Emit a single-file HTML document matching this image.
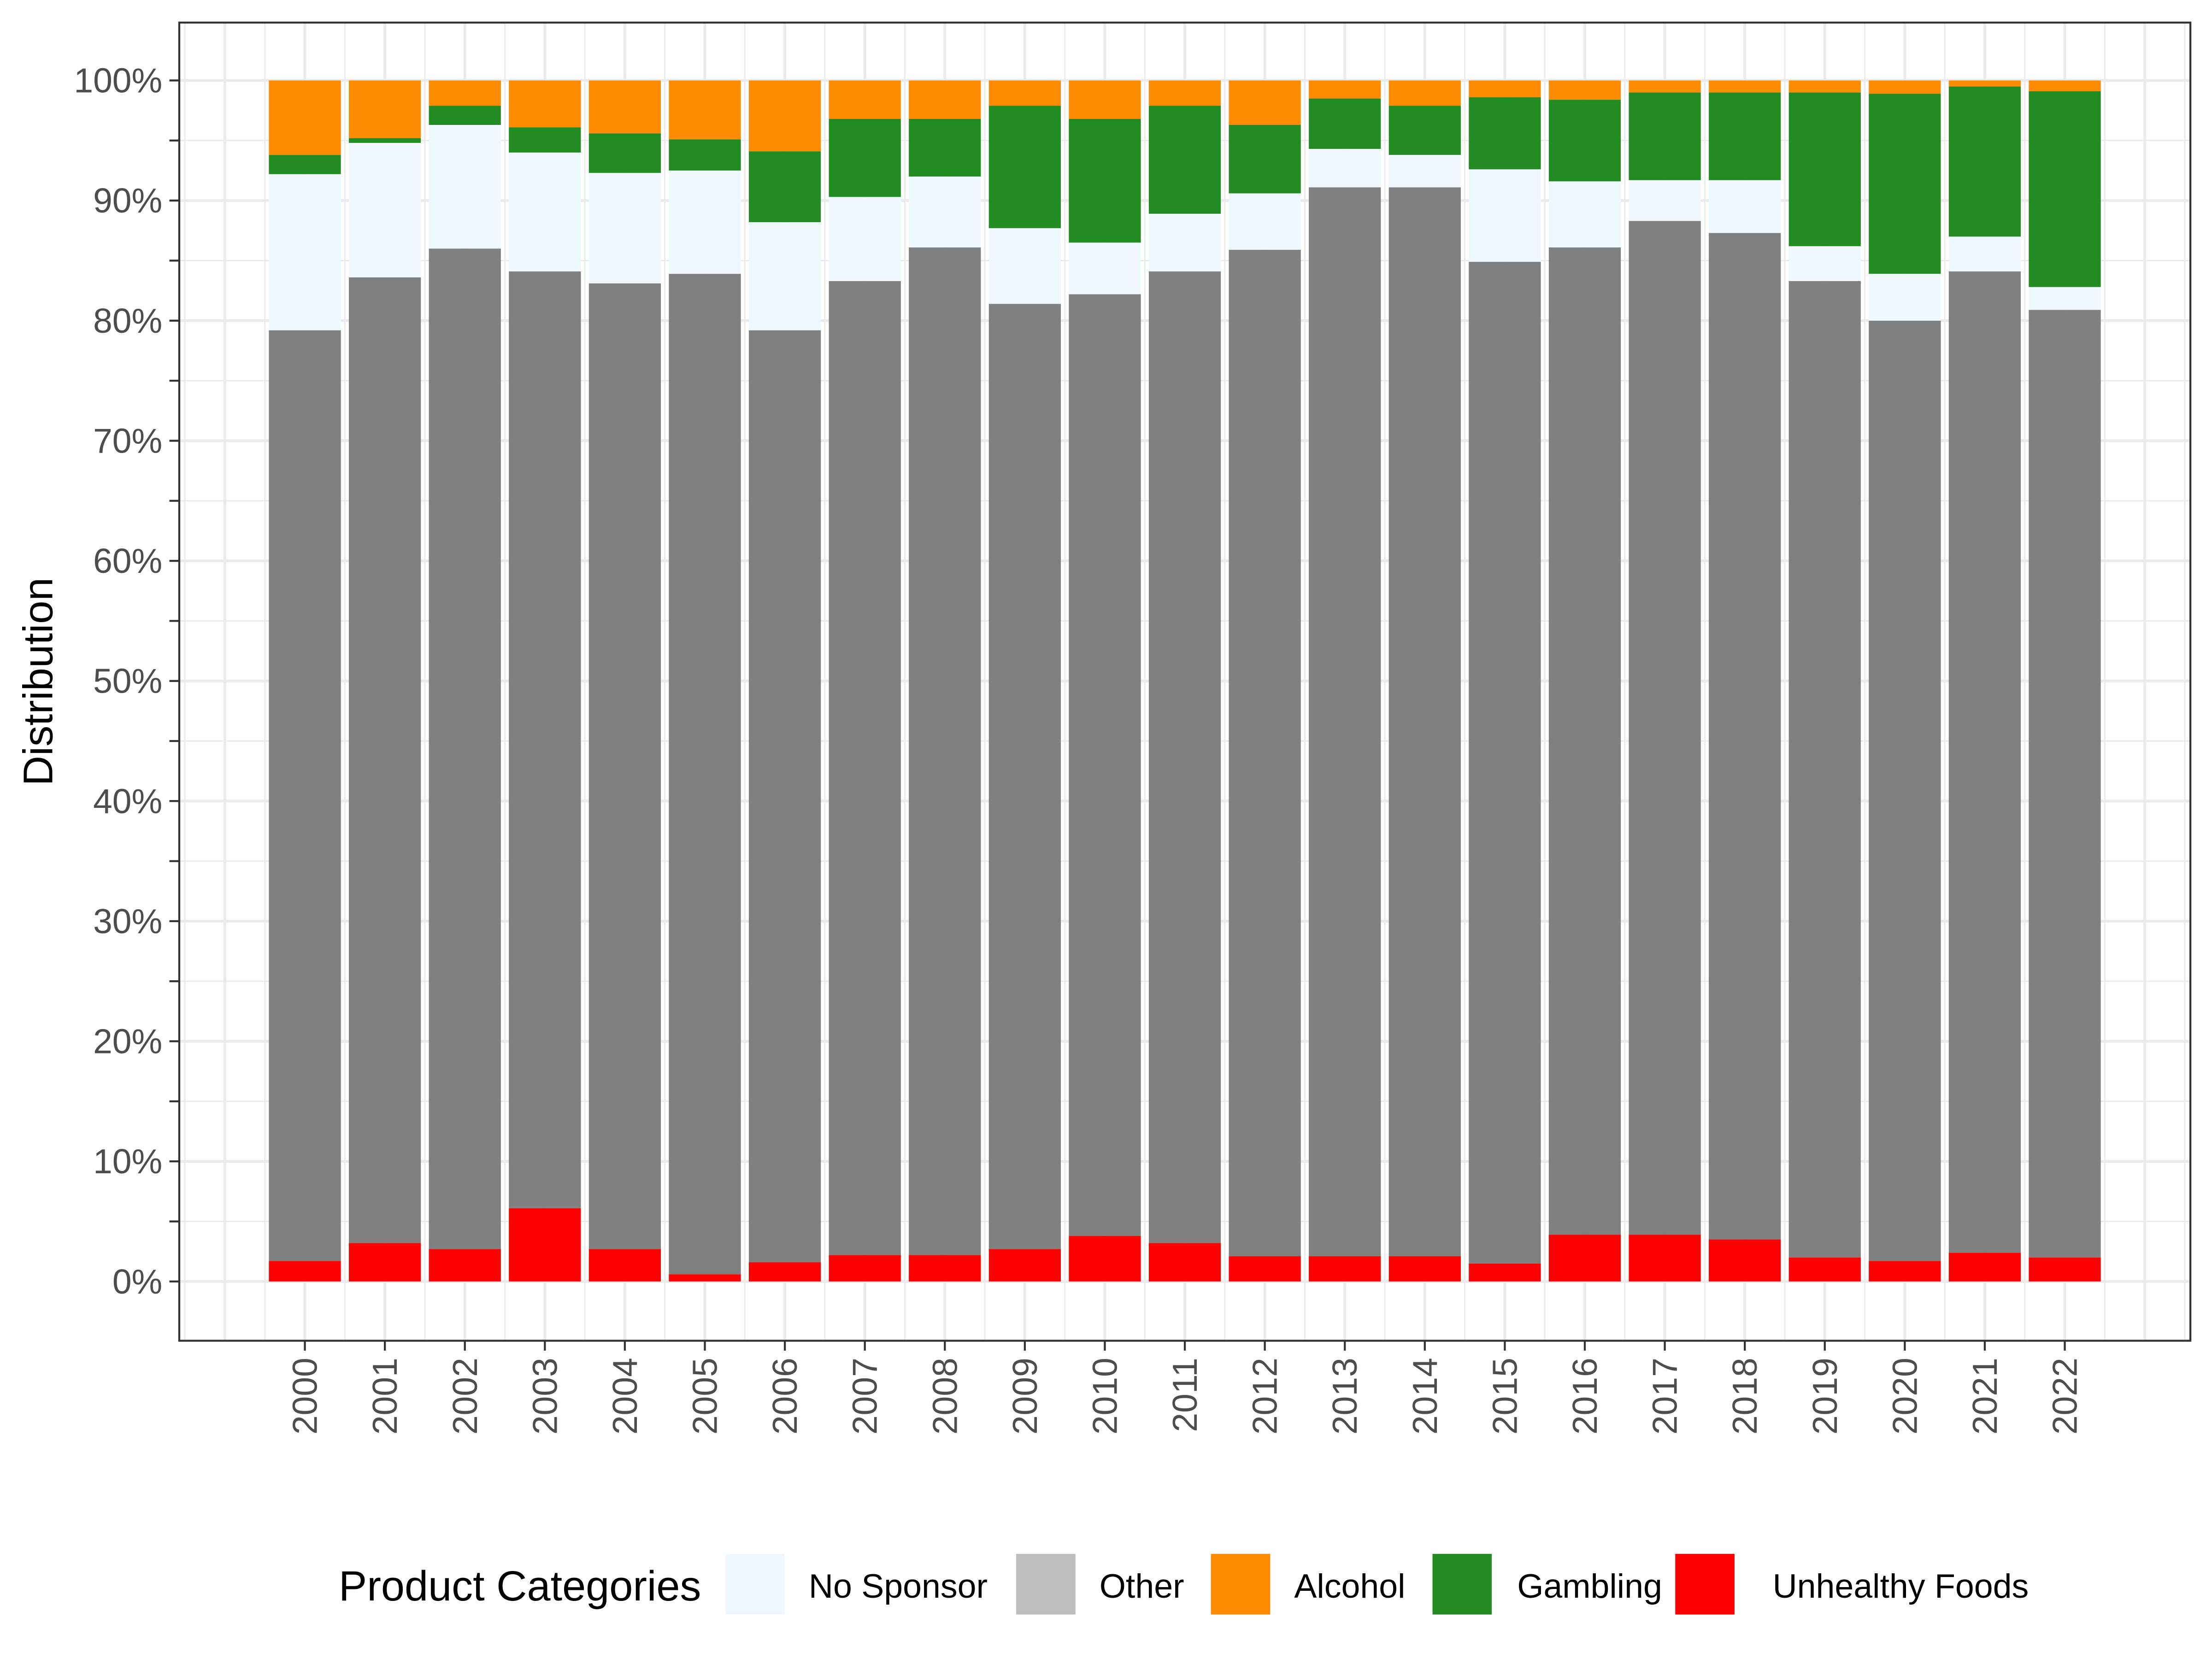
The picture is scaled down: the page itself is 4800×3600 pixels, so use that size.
<!DOCTYPE html>
<html><head><meta charset="utf-8"><style>
html,body{margin:0;padding:0;background:#fff}
svg{display:block}
text{font-family:"Liberation Sans",Arial,sans-serif}
</style></head><body>
<svg id="chart" width="4800" height="3600" viewBox="0 0 1567.3 1175.5" xmlns="http://www.w3.org/2000/svg">
<rect width="1567.3" height="1175.5" fill="#fff"/>
<g id="grid"></g>
<g id="bars"></g>
<rect x="127" y="16" width="1425" height="934" fill="none" stroke="#333" stroke-width="1.4"/>
<g id="axes"></g>
<text x="37" y="483" transform="rotate(-90 37 483)" text-anchor="middle" font-size="29.5" fill="#000">Distribution</text>
<g>
<text x="240" y="1134" font-size="30" fill="#000">Product Categories</text>
<g><rect x="514" y="1101" width="42" height="43" fill="#f0f8ff"/><text x="573" y="1132" font-size="24">No Sponsor</text></g>
<g><rect x="720" y="1101" width="42" height="43" fill="#bebebe"/><text x="779" y="1132" font-size="24">Other</text></g>
<g><rect x="858" y="1101" width="42" height="43" fill="#ff8c00"/><text x="917" y="1132" font-size="24">Alcohol</text></g>
<g><rect x="1015" y="1101" width="42" height="43" fill="#228b22"/><text x="1075" y="1132" font-size="24">Gambling</text></g>
<g><rect x="1187" y="1101" width="42" height="43" fill="#ff0000"/><text x="1256" y="1132" font-size="24">Unhealthy Foods</text></g>
</g>
</svg>
<script>
const years = ["2000","2001","2002","2003","2004","2005","2006","2007","2008","2009","2010","2011","2012","2013","2014","2015","2016","2017","2018","2019","2020","2021","2022"];
const unhealthy = [1.7,3.2,2.7,6.1,2.7,0.6,1.6,2.2,2.2,2.7,3.8,3.2,2.1,2.1,2.1,1.5,3.9,3.9,3.5,2.0,1.7,2.4,2.0];
const other = [77.5,80.4,83.3,78.0,80.4,83.3,77.6,81.1,83.9,78.7,78.4,80.9,83.8,89.0,89.0,83.4,82.2,84.4,83.8,81.3,78.3,81.7,78.9];
const noSponsor = [13.0,11.2,10.3,9.9,9.2,8.6,9.0,7.0,5.9,6.3,4.3,4.8,4.7,3.2,2.7,7.7,5.5,3.4,4.4,2.9,3.9,2.9,1.9];
const gambling = [1.6,0.4,1.6,2.1,3.3,2.6,5.9,6.5,4.8,10.2,10.3,9.0,5.7,4.2,4.1,6.0,6.8,7.3,7.3,12.8,15.0,12.5,16.3];
const alcohol = [6.2,4.8,2.1,3.9,4.4,4.9,5.9,3.2,3.2,2.1,3.2,2.1,3.7,1.5,2.1,1.4,1.6,1.0,1.0,1.0,1.1,0.5,0.9];
const yTicks = [0,10,20,30,40,50,60,70,80,90,100];
const yTickLabels = ["0%","10%","20%","30%","40%","50%","60%","70%","80%","90%","100%"];

const NS="http://www.w3.org/2000/svg";
const L=127,R=1552,T=16,B=950;
function xs(i){return 216+(1463-216)*i/22;}
function ys(v){return 908-(908-57)*v/100;}
function mk(tag,attrs,parent){const e=document.createElementNS(NS,tag);for(const k in attrs)e.setAttribute(k,attrs[k]);parent.appendChild(e);return e;}
const grid=document.getElementById('grid'),bars=document.getElementById('bars'),axes=document.getElementById('axes');
for(let v=-5;v<=105;v+=5){const y=ys(v);if(y<T||y>B)continue;const major=v%10===0;
 const l=mk('line',{x1:L,x2:R,y1:y,y2:y,stroke:'#ebebeb','stroke-width':major?2:1},grid);
 
 }
for(let h=-3;h<=47;h++){const x=xs(h/2);if(x<L||x>R)continue;const major=h%2===0;
 const l=mk('line',{x1:x,x2:x,y1:T,y2:B,stroke:'#ebebeb','stroke-width':major?2:1},grid);
 
 }
const series=[["unhealthy-foods",unhealthy,"#ff0000"],["other",other,"#808080"],["no-sponsor",noSponsor,"#f0f8ff"],["gambling",gambling,"#228b22"],["alcohol",alcohol,"#ff8c00"]];
const bw=(1463-216)/22*0.9;
years.forEach((yr,i)=>{let c=0;series.forEach(([nm,arr,col])=>{const v=arr[i];const y0=ys(c),y1=ys(c+v);c+=v;
 const r=mk('rect',{x:xs(i)-bw/2,y:y1,width:bw,height:Math.max(0,y0-y1),fill:col},bars);
 
 });});
for(let v=0;v<=100;v+=5){const y=ys(v);const t=mk('line',{x1:L-7,x2:L,y1:y,y2:y,stroke:'#333','stroke-width':1.4},axes);
 
 }
yTicks.forEach((v,k)=>{const t=mk('text',{x:L-12,y:ys(v)+8.5,'text-anchor':'end','font-size':24.5,fill:'#4d4d4d'},axes);t.textContent=yTickLabels[k];
 
 });
years.forEach((yr,i)=>{const x=xs(i);const t=mk('line',{x1:x,x2:x,y1:B,y2:B+7,stroke:'#333','stroke-width':1.4},axes);
 
 
 const lb=mk('text',{x:x+8.5,y:B+12,'text-anchor':'end','font-size':24.5,fill:'#4d4d4d',transform:`rotate(-90 ${x+8.5} ${B+12})`},axes);lb.textContent=yr;
 
 });
</script>
</body></html>
